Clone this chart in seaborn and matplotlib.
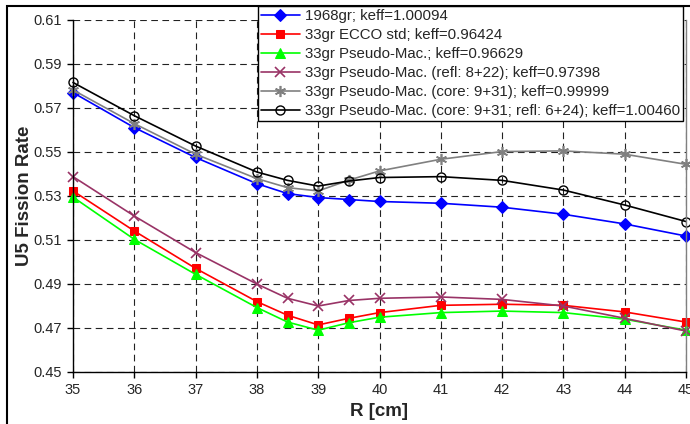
import matplotlib
matplotlib.use('Agg')
import matplotlib.pyplot as plt
import seaborn as sns

# data
r_cm = [35, 36, 37, 38, 38.5, 39, 39.5, 40, 41, 42, 43, 44, 45]
gr1968 = [0.5770, 0.5611, 0.5475, 0.5356, 0.5311, 0.5293, 0.5284, 0.5275, 0.5267, 0.5249, 0.5217, 0.5173, 0.5118]
ecco_std = [0.5323, 0.5141, 0.4971, 0.4820, 0.4758, 0.4714, 0.4744, 0.4770, 0.4803, 0.4808, 0.4803, 0.4773, 0.4727]
pseudo_mac = [0.5295, 0.5103, 0.4944, 0.4793, 0.4727, 0.4690, 0.4724, 0.4749, 0.4770, 0.4777, 0.4770, 0.4740, 0.4690]
pseudo_refl = [0.5388, 0.5209, 0.5043, 0.4900, 0.4835, 0.4800, 0.4825, 0.4835, 0.4841, 0.4830, 0.4800, 0.4744, 0.4686]
pseudo_core = [0.5782, 0.5629, 0.5490, 0.5379, 0.5338, 0.5323, 0.5372, 0.5414, 0.5467, 0.5502, 0.5505, 0.5490, 0.5444]
pseudo_core_refl = [0.5816, 0.5665, 0.5527, 0.5409, 0.5371, 0.5345, 0.5368, 0.5384, 0.5388, 0.5371, 0.5327, 0.5259, 0.5184]

labels = ['1968gr; keff=1.00094',
          '33gr ECCO std; keff=0.96424',
          '33gr Pseudo-Mac.; keff=0.96629',
          '33gr Pseudo-Mac. (refl: 8+22); keff=0.97398',
          '33gr Pseudo-Mac. (core: 9+31); keff=0.99999',
          '33gr Pseudo-Mac. (core: 9+31; refl: 6+24); keff=1.00460']
x_ticks = [35, 36, 37, 38, 39, 40, 41, 42, 43, 44, 45]
y_ticks = [0.45, 0.47, 0.49, 0.51, 0.53, 0.55, 0.57, 0.59, 0.61]

sns.set_style('white')
plt.rcParams['font.family'] = ['Liberation Sans', 'DejaVu Sans']

fig = plt.figure(figsize=(6.9, 4.24), dpi=100)
ax = fig.add_axes([73 / 690, 1 - 372 / 424, 613 / 690, 352 / 424])

# series styles (Excel-like)
styles = [
    dict(color='#0000FF', marker='D', markersize=6),
    dict(color='#FF0000', marker='s', markersize=5.5),
    dict(color='#00FF00', marker='^', markersize=6.5),
    dict(color='#993366', marker='x', markersize=7, markeredgewidth=1.2),
    dict(color='#808080', marker=(6, 2, 0), markersize=8, markeredgewidth=1.2),
    dict(color='#000000', marker='o', markersize=6.5, markerfacecolor='none', markeredgewidth=1),
]
series = [gr1968, ecco_std, pseudo_mac, pseudo_refl, pseudo_core, pseudo_core_refl]

for vals, lab, st in zip(series, labels, styles):
    sns.lineplot(x=r_cm, y=vals, label=lab, linewidth=1.2, markeredgecolor=st['color'],
                 ax=ax, clip_on=False, **st)

ax.set_xlim(35, 45)
ax.set_ylim(0.45, 0.61)
ax.set_xticks(x_ticks)
ax.set_yticks(y_ticks)
ax.set_yticklabels([f'{v:.2f}' for v in y_ticks])

ax.grid(True, color='#222222', linestyle=(0, (6, 4)), linewidth=0.8)
ax.tick_params(bottom=True, left=True, direction='out', length=4, width=1,
               color='black', labelsize=10.5, pad=4)

for s in ['left', 'bottom']:
    ax.spines[s].set_color('black')
    ax.spines[s].set_linewidth(1)
ax.spines['top'].set_visible(False)
ax.spines['right'].set_color('#808080')
ax.spines['right'].set_linewidth(1)

ax.set_xlabel('R [cm]', fontsize=13.5, fontweight='bold', labelpad=4)
ax.set_ylabel('U5 Fission Rate', fontsize=13.5, fontweight='bold', labelpad=0.5)

leg = ax.legend(loc='upper right', bbox_to_anchor=(683 / 690, 1 - 6 / 424),
                bbox_transform=fig.transFigure, borderaxespad=0,
                fontsize=10.8, frameon=True, fancybox=False, framealpha=1,
                edgecolor='black', handlelength=2.6, handletextpad=0.35,
                labelspacing=0.33, borderpad=0.2)
leg.get_frame().set_linewidth(1)
leg.set_zorder(10)

# outer chart border (the reference is cropped on right/bottom)
fig.add_artist(plt.Rectangle((7 / 690, -0.2), 1.2, 1.2 - 6 / 424,
                             transform=fig.transFigure, fill=False,
                             edgecolor='black', linewidth=1.5))

fig.savefig('out.png', dpi=100)
